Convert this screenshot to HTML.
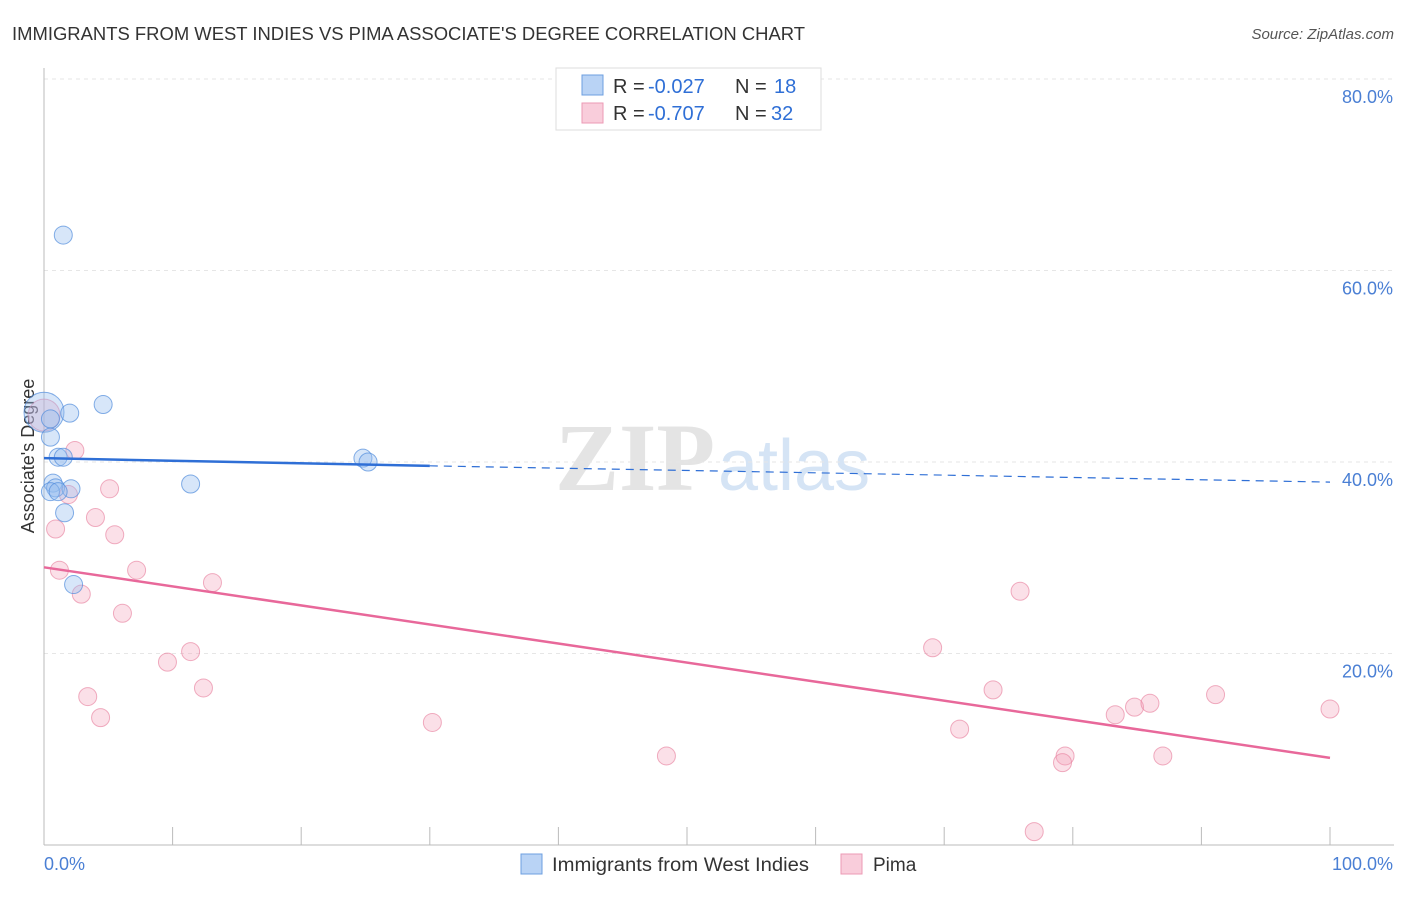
<!DOCTYPE html>
<html><head><meta charset="utf-8"><style>
body{margin:0;background:#fff;font-family:"Liberation Sans",sans-serif;}
</style></head><body>
<svg id="c" width="1406" height="892" xmlns="http://www.w3.org/2000/svg"></svg>
<script>
const blueX=[1.5,0,2.0,4.6,0.5,0.5,1.1,1.5,0.7,0.9,0.5,2.1,1.6,2.3,11.4,24.8,25.2,1.1];
const blueY=[63.7,45.2,45.1,46.0,44.5,42.6,40.5,40.5,37.8,37.3,36.9,37.2,34.7,27.2,37.7,40.4,40.0,36.9];
const blueR=[9,20,9,9,9,9,9,9,9,9,9,9,9,9,9,9,9,9];
const pinkX=[0,2.4,5.1,0.9,4.0,5.5,1.2,7.2,2.9,13.1,6.1,11.4,9.6,12.4,3.4,4.4,30.2,48.4,75.9,69.1,73.8,71.2,83.3,84.8,86.0,91.1,100,79.4,79.2,87.0,77.0,1.9];
const pinkY=[44.9,41.2,37.2,33.0,34.2,32.4,28.7,28.7,26.2,27.4,24.2,20.2,19.1,16.4,15.5,13.3,12.8,9.3,26.5,20.6,16.2,12.1,13.6,14.4,14.8,15.7,14.2,9.3,8.6,9.3,1.4,36.6];
const pinkR=[16,9,9,9,9,9,9,9,9,9,9,9,9,9,9,9,9,9,9,9,9,9,9,9,9,9,9,9,9,9,9,9];
const yTicks=[20,40,60,80];
const blueLine=[[0,40.4],[30,39.6],[100,37.9]];
const pinkLine=[[0,29.0],[100,9.1]];
const X=v=>44+v*12.86, Y=v=>845-v*9.575;
const s=document.getElementById('c');const NS='http://www.w3.org/2000/svg';
function el(t,a,p){const e=document.createElementNS(NS,t);for(const k in a)e.setAttribute(k,a[k]);(p||s).appendChild(e);return e;}
let t;
t=el('text',{x:12,y:40,'font-size':18,fill:'#333',textLength:793,lengthAdjust:'spacingAndGlyphs'});t.textContent="IMMIGRANTS FROM WEST INDIES VS PIMA ASSOCIATE'S DEGREE CORRELATION CHART";


t=el('text',{x:1394,y:39,'font-size':15,fill:'#555','font-style':'italic','text-anchor':'end'});t.textContent="Source: ZipAtlas.com";


t=el('text',{x:555,y:490,'font-size':96,fill:'#e4e4e4','font-family':'Liberation Serif,serif','font-weight':'bold'});t.textContent="ZIP";


t=el('text',{x:718,y:490,'font-size':72,fill:'#d5e4f5'});t.textContent="atlas";


for(const v of yTicks){const l=el('line',{x1:44,x2:1394,y1:Y(v),y2:Y(v),stroke:'#e6e6e6','stroke-dasharray':'4,4'});


const tx=el('text',{x:1393,y:Y(v)+24,'font-size':18,fill:'#4a7fd4','text-anchor':'end'});tx.textContent=v.toFixed(1)+'%';

}
el('line',{x1:44,x2:44,y1:68,y2:845,stroke:'#bbb'});
el('line',{x1:44,x2:1394,y1:845,y2:845,stroke:'#bbb'});
for(let i=0;i<=10;i++){const l=el('line',{x1:X(i*10),x2:X(i*10),y1:827,y2:845,stroke:'#bbb'});

}
t=el('text',{x:44,y:870,'font-size':18,fill:'#4a7fd4'});t.textContent="0.0%";


t=el('text',{x:1393,y:870,'font-size':18,fill:'#4a7fd4','text-anchor':'end'});t.textContent="100.0%";


t=el('text',{x:0,y:0,'font-size':18,fill:'#333','text-anchor':'middle',transform:'translate(34,456) rotate(-90)'});t.textContent="Associate's Degree";


for(let i=0;i<pinkX.length;i++){const c=el('circle',{cx:X(pinkX[i]),cy:Y(pinkY[i]),r:pinkR[i],fill:'rgba(244,160,185,0.32)',stroke:'rgba(232,130,160,0.65)'});

}
for(let i=0;i<blueX.length;i++){const c=el('circle',{cx:X(blueX[i]),cy:Y(blueY[i]),r:blueR[i],fill:'rgba(150,190,240,0.38)',stroke:'rgba(80,140,220,0.7)'});

}
let l=el('line',{x1:X(blueLine[0][0]),y1:Y(blueLine[0][1]),x2:X(blueLine[1][0]),y2:Y(blueLine[1][1]),stroke:'#2f6fd6','stroke-width':2.5});


l=el('line',{x1:X(blueLine[1][0]),y1:Y(blueLine[1][1]),x2:X(blueLine[2][0]),y2:Y(blueLine[2][1]),stroke:'#2f6fd6','stroke-width':1.2,'stroke-dasharray':'8,6'});


l=el('line',{x1:X(pinkLine[0][0]),y1:Y(pinkLine[0][1]),x2:X(pinkLine[1][0]),y2:Y(pinkLine[1][1]),stroke:'#e8689a','stroke-width':2.5});


const g=el('g',{});


el('rect',{x:556,y:68,width:265,height:62,fill:'#fff',stroke:'#ddd'},g);
el('rect',{x:582,y:75,width:21,height:20,fill:'#b9d3f5',stroke:'#6d9fe0'},g);
el('rect',{x:582,y:103,width:21,height:20,fill:'#f9cddb',stroke:'#ec9ab5'},g);
function lt(x,y,txt,col){const e=el('text',{x:x,y:y,'font-size':20,fill:col},g);e.textContent=txt;return e;}
lt(613,93,'R =','#333');lt(648,93,'-0.027','#2f6fd6');lt(735,93,'N =','#333');lt(774,93,'18','#2f6fd6');
lt(613,120,'R =','#333');lt(648,120,'-0.707','#2f6fd6');lt(735,120,'N =','#333');lt(771,120,'32','#2f6fd6');
const b=el('g',{});


el('rect',{x:521,y:854,width:21,height:20,fill:'#b9d3f5',stroke:'#6d9fe0'},b);
t=el('text',{x:552,y:871,'font-size':19,fill:'#333',textLength:257,lengthAdjust:'spacingAndGlyphs'},b);t.textContent="Immigrants from West Indies";
el('rect',{x:841,y:854,width:21,height:20,fill:'#f9cddb',stroke:'#ec9ab5'},b);
t=el('text',{x:873,y:871,'font-size':19,fill:'#333'},b);t.textContent="Pima";
</script>
</body></html>
